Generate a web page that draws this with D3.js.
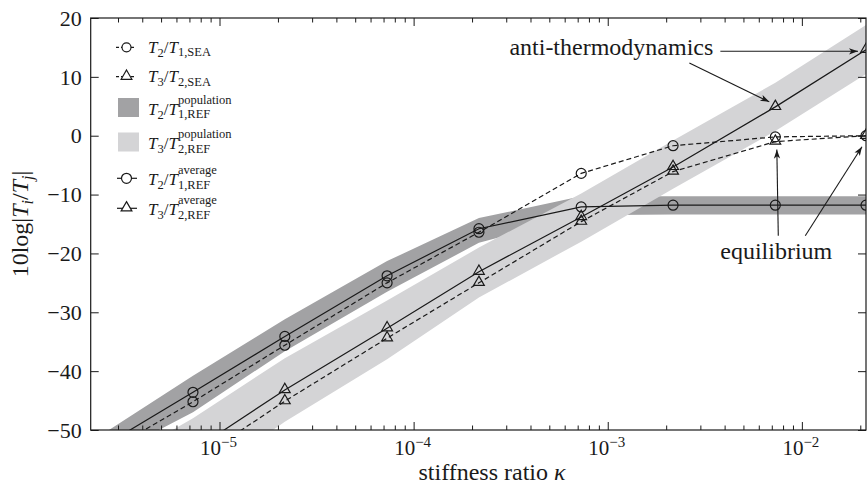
<!DOCTYPE html>
<html>
<head>
<meta charset="utf-8">
<script src="https://cdn.jsdelivr.net/npm/d3@7"></script>
<style>
body{margin:0;background:#fff;}
svg text{font-family:"Liberation Serif","Times New Roman",serif;fill:#1a1a1a;}
</style>
</head>
<body>
<svg id="chart"></svg>
<script>
// data (10log|Ti/Tj| in dB vs stiffness ratio)
const kappa = [2.17e-6, 7.3e-6, 2.17e-5, 7.3e-5, 2.17e-4, 7.3e-4, 2.17e-3, 7.3e-3, 2.14e-2];
const t21Sea = [-55.3, -45.2, -35.6, -25.0, -16.4, -6.4, -1.7, -0.2, 0.0];
const t32Sea = [-66.0, -55.5, -45.1, -34.4, -25.0, -14.6, -6.1, -1.0, 0.0];
const t21Avg = [-54.0, -43.6, -34.1, -23.8, -15.8, -12.1, -11.8, -11.8, -11.8];
const t32Avg = [-64.0, -53.5, -43.2, -32.7, -23.1, -13.8, -5.3, 4.9, 14.6];
const t21PopHi = [-52.0, -40.8, -31.2, -21.3, -14.0, -10.3, -10.3, -10.3, -10.3];
const t21PopLo = [-56.0, -47.0, -36.6, -26.5, -18.2, -13.5, -13.4, -13.4, -13.4];
const t32PopHi = [-58.0, -48.0, -37.8, -28.0, -19.0, -9.8, -0.8, 9.0, 18.8];
const t32PopLo = [-70.0, -59.5, -48.6, -38.0, -27.5, -18.0, -9.0, 0.8, 10.5];

const yTicks = [-50, -40, -30, -20, -10, 0, 10, 20];
const xMajor = [1e-5, 1e-4, 1e-3, 1e-2];
const xExp = ["\u22125", "\u22124", "\u22123", "\u22122"];

const width = 868, height = 485;
const marginLeft = 90.7, marginRight = 2, marginTop = 18, marginBottom = 55;

var svg = d3.select("#chart").attr("width", width).attr("height", height);

var x = d3.scaleLog()
    .domain([kappa[0], kappa[kappa.length - 1]])
    .range([marginLeft, width - marginRight]);
var y = d3.scaleLinear()
    .domain([-50, 20])
    .range([height - marginBottom, marginTop]);

svg.append("defs").append("clipPath").attr("id", "plotclip")
    .append("rect")
    .attr("x", marginLeft).attr("y", marginTop)
    .attr("width", width - marginRight - marginLeft)
    .attr("height", height - marginBottom - marginTop);

svg.select("defs").append("marker")
    .attr("id", "arrow")
    .attr("viewBox", "0 0 10 10")
    .attr("refX", 10).attr("refY", 5)
    .attr("markerWidth", 9).attr("markerHeight", 9)
    .attr("markerUnits", "userSpaceOnUse")
    .attr("orient", "auto")
    .append("path")
    .attr("d", "M0,1.5 L10,5 L0,8.5 L2.5,5 Z")
    .attr("fill", "#1a1a1a");

var plot = svg.append("g").attr("clip-path", "url(#plotclip)");

// population bands
function band(hi, lo, color) {
    var area = d3.area()
        .x((d, i) => x(kappa[i]))
        .y0((d, i) => y(lo[i]))
        .y1(d => y(d));
    plot.append("path").attr("d", area(hi)).attr("fill", color);
}
band(t21PopHi, t21PopLo, "#a2a2a4");
band(t32PopHi, t32PopLo, "#d4d4d6");

var tri = d3.symbol().type(d3.symbolTriangle).size(50);

function series(vals, dashed, shape) {
    var line = d3.line().x((d, i) => x(kappa[i])).y(d => y(d));
    plot.append("path")
        .attr("d", line(vals))
        .attr("fill", "none")
        .attr("stroke", "#1a1a1a")
        .attr("stroke-width", 1.2)
        .attr("stroke-dasharray", dashed ? "5,3" : null);
    var g = plot.append("g");
    vals.forEach(function (v, i) {
        if (shape == "circle") {
            g.append("circle").attr("cx", x(kappa[i])).attr("cy", y(v)).attr("r", 5)
                .attr("fill", "none").attr("stroke", "#1a1a1a").attr("stroke-width", 1.2);
        } else {
            g.append("path").attr("d", tri)
                .attr("transform", `translate(${x(kappa[i])},${y(v) - 0.5})`)
                .attr("fill", "none").attr("stroke", "#1a1a1a").attr("stroke-width", 1.2);
        }
    });
}
series(t21Avg, false, "circle");
series(t32Avg, false, "triangle");
series(t21Sea, true, "circle");
series(t32Sea, true, "triangle");

// frame + ticks (all inward)
var minor = x.ticks().filter(d => xMajor.indexOf(d) < 0);
var axisColor = "#1a1a1a";
function styleAxis(g) {
    g.select(".domain").remove();
    g.selectAll("line").attr("stroke", axisColor).attr("stroke-width", 1);
}
var yb = height - marginBottom, yt = marginTop;
svg.append("g").attr("transform", `translate(0,${yb})`)
    .call(d3.axisBottom(x).tickValues(minor).tickSize(-4.5).tickFormat("")).call(styleAxis);
svg.append("g").attr("transform", `translate(0,${yb})`)
    .call(d3.axisBottom(x).tickValues(xMajor).tickSize(-8).tickFormat("")).call(styleAxis);
svg.append("g").attr("transform", `translate(0,${yt})`)
    .call(d3.axisTop(x).tickValues(minor).tickSize(-4.5).tickFormat("")).call(styleAxis);
svg.append("g").attr("transform", `translate(0,${yt})`)
    .call(d3.axisTop(x).tickValues(xMajor).tickSize(-8).tickFormat("")).call(styleAxis);
svg.append("g").attr("transform", `translate(${marginLeft},0)`)
    .call(d3.axisLeft(y).tickValues(yTicks).tickSize(-8).tickFormat("")).call(styleAxis);
svg.append("g").attr("transform", `translate(${width - marginRight},0)`)
    .call(d3.axisRight(y).tickValues(yTicks).tickSize(-8).tickFormat("")).call(styleAxis);

svg.append("rect")
    .attr("x", marginLeft).attr("y", marginTop)
    .attr("width", width - marginRight - marginLeft)
    .attr("height", height - marginBottom - marginTop)
    .attr("fill", "none").attr("stroke", axisColor).attr("stroke-width", 1.2);

// tick labels
svg.append("g").selectAll("text").data(yTicks).join("text")
    .attr("x", marginLeft - 9)
    .attr("y", d => y(d))
    .attr("dy", "0.35em")
    .attr("text-anchor", "end")
    .attr("font-size", "22px")
    .text(d => d < 0 ? "\u2212" + Math.abs(d) : d);

var xl = svg.append("g").selectAll("text").data(xMajor).join("text")
    .attr("x", d => x(d) - 1)
    .attr("y", yb + 25)
    .attr("text-anchor", "middle")
    .attr("font-size", "21px");
xl.append("tspan").text("10");
xl.append("tspan").attr("dy", -8).attr("font-size", "15px").text((d, i) => xExp[i]);

// axis titles
svg.append("text")
    .attr("x", 492).attr("y", 480)
    .attr("text-anchor", "middle")
    .attr("font-size", "24px")
    .text("stiffness ratio ")
    .append("tspan").attr("font-style", "italic").text("\u03ba");

var yl = svg.append("text")
    .attr("transform", `translate(28,${(marginTop + yb) / 2}) rotate(-90)`)
    .attr("text-anchor", "middle")
    .attr("font-size", "24px");
yl.append("tspan").text("10log|");
yl.append("tspan").attr("font-style", "italic").text("T");
yl.append("tspan").attr("font-style", "italic").attr("font-size", "16px").attr("dy", 5).text("i");
yl.append("tspan").attr("dy", -5).text("/");
yl.append("tspan").attr("font-style", "italic").text("T");
yl.append("tspan").attr("font-style", "italic").attr("font-size", "16px").attr("dy", 5).text("j");
yl.append("tspan").attr("dy", -5).text("|");

// legend
const legendRows = [
    {kind: "line", dash: true, shape: "circle", num: "2", den: "1", sub: "1,SEA", sup: null, cy: 47.3},
    {kind: "line", dash: true, shape: "triangle", num: "3", den: "2", sub: "2,SEA", sup: null, cy: 76.7},
    {kind: "box", color: "#a2a2a4", num: "2", sub: "1,REF", sup: "population", cy: 107.5},
    {kind: "box", color: "#d4d4d6", num: "3", sub: "2,REF", sup: "population", cy: 142},
    {kind: "line", dash: false, shape: "circle", num: "2", sub: "1,REF", sup: "average", cy: 178.3},
    {kind: "line", dash: false, shape: "triangle", num: "3", sub: "2,REF", sup: "average", cy: 208.3}
];
var lg = svg.append("g");
legendRows.forEach(function (r) {
    if (r.kind == "box") {
        lg.append("rect").attr("x", 118).attr("y", r.cy - 9.5).attr("width", 21).attr("height", 19)
            .attr("fill", r.color);
    } else {
        lg.append("line").attr("x1", r.dash ? 116 : 117).attr("x2", r.dash ? 136 : 137)
            .attr("y1", r.cy).attr("y2", r.cy)
            .attr("stroke", "#1a1a1a").attr("stroke-width", 1.2)
            .attr("stroke-dasharray", r.dash ? "3,2" : null);
        if (r.shape == "circle") {
            lg.append("circle").attr("cx", 126.5).attr("cy", r.cy).attr("r", r.dash ? 4.5 : 5)
                .attr("fill", "#fff").attr("stroke", "#1a1a1a").attr("stroke-width", 1.2);
        } else {
            lg.append("path").attr("d", tri).attr("transform", `translate(126.5,${r.cy - 0.5})`)
                .attr("fill", "#fff").attr("stroke", "#1a1a1a").attr("stroke-width", 1.2);
        }
    }
    var base = r.cy + (r.sup ? 7 : 5.5);
    var t = lg.append("text").attr("x", 148).attr("y", base).attr("font-size", "17px");
    t.append("tspan").attr("font-style", "italic").text("T");
    t.append("tspan").attr("font-size", "12.5px").attr("dy", 4).text(r.num);
    t.append("tspan").attr("dy", -4).text("/");
    t.append("tspan").attr("font-style", "italic").text("T");
    var w = t.node().getComputedTextLength();
    lg.append("text").attr("x", 148 + w).attr("y", base + 3.5).attr("font-size", "12.5px").text(r.sub);
    if (r.sup) {
        lg.append("text").attr("x", 148 + w).attr("y", base - 11).attr("font-size", "12.5px").text(r.sup);
    }
});

// annotations
const antiAt = [3.5e-3, 13.7];
const equiAt = [3.8e-3, -20.9];
var last = kappa.length - 1;
svg.append("text").attr("x", x(antiAt[0])).attr("y", y(antiAt[1]))
    .attr("text-anchor", "end").attr("font-size", "24px").text("anti-thermodynamics");
svg.append("text").attr("x", x(equiAt[0])).attr("y", y(equiAt[1]))
    .attr("font-size", "24px").text("equilibrium");

function arrow(x1, y1, x2, y2) {
    svg.append("line").attr("x1", x1).attr("y1", y1).attr("x2", x2).attr("y2", y2)
        .attr("stroke", "#1a1a1a").attr("stroke-width", 1.1)
        .attr("marker-end", "url(#arrow)");
}
arrow(x(antiAt[0]) + 7, y(t32Avg[last]) + 1.5, x(kappa[last]) - 8, y(t32Avg[last]) + 1.5);
arrow(x(antiAt[0]) - 24, y(antiAt[1]) + 8, x(kappa[7]) - 6, y(t32Avg[7]) - 5);
arrow(x(equiAt[0]) + 58, y(equiAt[1]) - 23, x(kappa[7]) + 1.5, y(t32Sea[7]) + 8);
arrow(x(equiAt[0]) + 85, y(equiAt[1]) - 23, x(kappa[last]) - 4, y(t32Sea[last]) + 11);
</script>
</body>
</html>
